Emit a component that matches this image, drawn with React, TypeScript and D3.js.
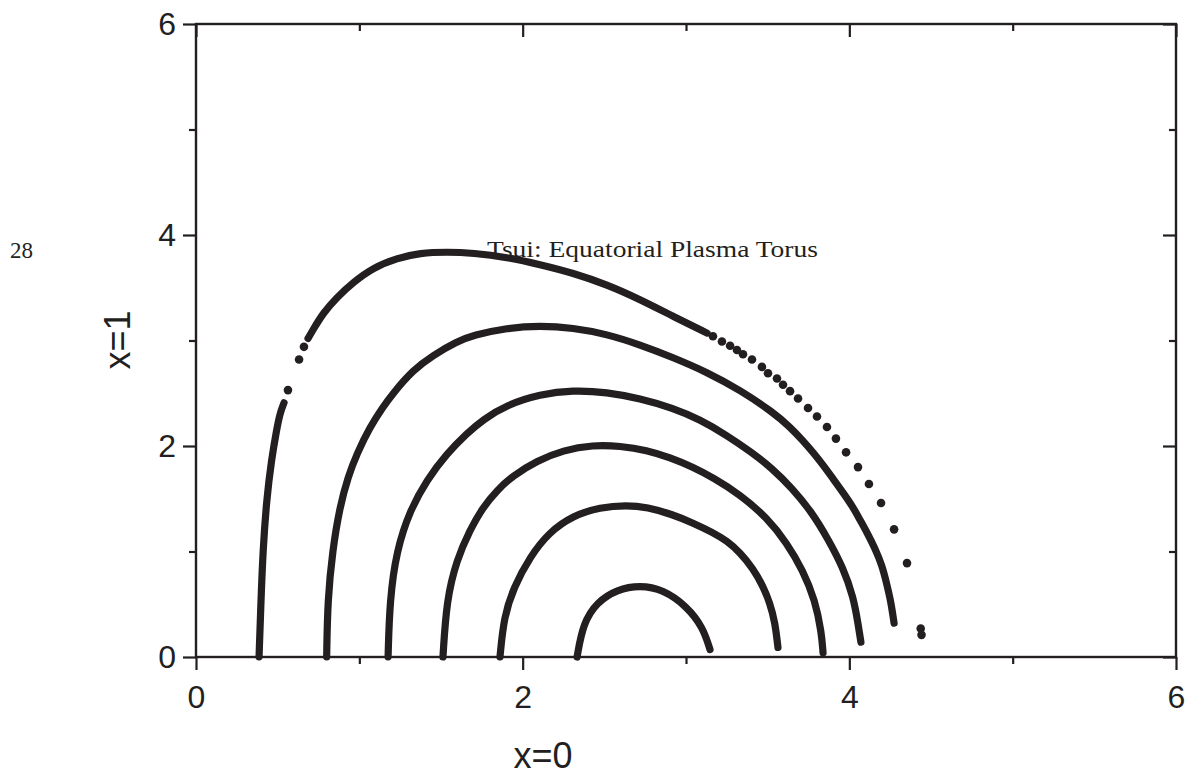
import React from "react";
import * as d3 from "d3";

const WIDTH = 1195;
const HEIGHT = 777;
const plot = { left: 196, right: 1176, top: 24, bottom: 657 };
const ink = "#231f20";

const majorTicks = [0, 2, 4, 6];
const minorTicks = [1, 3, 5];
const xTitle = "x=0";
const yTitle = "x=1";
const caption = "Tsui: Equatorial Plasma Torus";
const pageNo = "28";

// Flux surfaces, outermost first. [x, y]
// surface 1 is only dense on parts of its path, the rest are loose dots
const surface1Foot = [
  [0.386, 0], [0.398, 0.54], [0.41, 1.01], [0.432, 1.49], [0.462, 1.87],
  [0.493, 2.15], [0.514, 2.31], [0.539, 2.41],
];
const surface1Top = [
  [0.686, 3.02], [0.716, 3.1], [0.778, 3.26], [0.863, 3.41], [0.961, 3.55],
  [1.084, 3.69], [1.231, 3.78], [1.371, 3.83], [1.537, 3.84], [1.696, 3.83],
  [1.904, 3.79], [2.106, 3.72], [2.308, 3.64], [2.516, 3.53], [2.718, 3.39],
  [2.92, 3.23], [3.129, 3.07],
];
const surface1Dots = [
  [0.563, 2.53], [0.631, 2.82], [0.661, 2.94],
  [3.165, 3.04], [3.22, 2.99], [3.27, 2.95], [3.312, 2.91], [3.349, 2.87],
  [3.404, 2.82], [3.465, 2.75], [3.502, 2.69], [3.557, 2.64], [3.594, 2.58],
  [3.637, 2.52], [3.686, 2.45], [3.747, 2.36], [3.802, 2.28], [3.863, 2.18],
  [3.918, 2.07], [3.98, 1.94], [4.053, 1.8], [4.12, 1.64], [4.194, 1.46],
  [4.274, 1.21], [4.353, 0.89], [4.437, 0.27], [4.442, 0.21],
];
const surface2 = [
  [0.8, 0], [0.806, 0.54], [0.836, 1.01], [0.88, 1.42], [0.931, 1.71],
  [0.986, 1.93], [1.065, 2.18], [1.145, 2.37], [1.206, 2.5], [1.329, 2.72],
  [1.451, 2.86], [1.598, 2.99], [1.696, 3.05], [1.904, 3.12], [2.106, 3.14],
  [2.308, 3.12], [2.516, 3.06], [2.718, 2.96], [2.92, 2.84], [3.129, 2.7],
  [3.331, 2.53], [3.533, 2.32], [3.637, 2.18], [3.716, 2.05], [3.778, 1.94],
  [3.839, 1.82], [3.9, 1.69], [3.961, 1.56], [4.023, 1.42], [4.065, 1.3],
  [4.108, 1.18], [4.157, 1.03], [4.2, 0.87], [4.231, 0.68], [4.255, 0.52],
  [4.274, 0.32],
];
const surface3 = [
  [1.176, 0], [1.186, 0.54], [1.228, 1.01], [1.31, 1.39], [1.414, 1.68],
  [1.537, 1.93], [1.659, 2.12], [1.757, 2.25], [1.904, 2.39], [2.106, 2.49],
  [2.308, 2.53], [2.516, 2.51], [2.718, 2.45], [2.92, 2.36], [3.086, 2.25],
  [3.251, 2.1], [3.392, 1.95], [3.527, 1.79], [3.649, 1.6], [3.772, 1.37],
  [3.869, 1.12], [3.961, 0.85], [4.025, 0.57], [4.055, 0.3], [4.071, 0.14],
];
const surface4 = [
  [1.512, 0], [1.534, 0.54], [1.596, 0.92], [1.676, 1.2], [1.757, 1.42],
  [1.843, 1.58], [1.941, 1.72], [2.088, 1.86], [2.247, 1.96], [2.431, 2.01],
  [2.596, 2.0], [2.761, 1.96], [2.902, 1.89], [3.043, 1.8], [3.165, 1.7],
  [3.331, 1.54], [3.496, 1.32], [3.618, 1.08], [3.716, 0.82], [3.79, 0.54],
  [3.83, 0.23], [3.839, 0.04],
];
const surface5 = [
  [1.861, 0], [1.885, 0.38], [1.945, 0.66], [2.045, 0.95], [2.16, 1.18],
  [2.308, 1.34], [2.474, 1.42], [2.639, 1.44], [2.761, 1.42], [2.92, 1.35],
  [3.043, 1.27], [3.165, 1.18], [3.251, 1.1], [3.331, 0.99], [3.41, 0.84],
  [3.472, 0.67], [3.514, 0.51], [3.545, 0.33], [3.563, 0.09],
];
const surface6 = [
  [2.333, 0], [2.37, 0.32], [2.455, 0.52], [2.578, 0.64], [2.718, 0.68],
  [2.859, 0.64], [3.006, 0.48], [3.104, 0.28], [3.147, 0.07],
];

const traces = [surface1Foot, surface1Top, surface2, surface3, surface4, surface5, surface6];

class TorusChart extends React.Component {
  svg: SVGSVGElement | null = null;

  componentDidMount() {
    this.drawChart();
  }

  shouldComponentUpdate() {
    return false;
  }

  drawChart() {
    var svg = d3.select(this.svg);

    var x = d3.scaleLinear().domain([0, 6]).range([plot.left, plot.right]);
    var y = d3.scaleLinear().domain([0, 6]).range([plot.bottom, plot.top]);

    // frame: bottom/left ticks point out, top/right point in
    function styleAxis(g) {
      g.select(".domain").remove();
      g.selectAll("line").attr("stroke", ink).attr("stroke-width", 2.2);
      g.selectAll("text")
        .attr("fill", ink)
        .style("font-family", "'Liberation Sans', Arial, sans-serif")
        .style("font-size", "32px");
    }

    var fmt = d3.format("d");
    var blank = () => "";

    svg.append("g")
      .attr("transform", "translate(0," + plot.bottom + ")")
      .call(d3.axisBottom(x).tickValues(majorTicks).tickSize(13).tickPadding(11).tickFormat(fmt))
      .call(styleAxis)
      .selectAll("text").attr("dy", "0.85em");
    svg.append("g")
      .attr("transform", "translate(0," + plot.bottom + ")")
      .call(d3.axisBottom(x).tickValues(minorTicks).tickSize(7).tickFormat(blank))
      .call(styleAxis);

    svg.append("g")
      .attr("transform", "translate(" + plot.left + ",0)")
      .call(d3.axisLeft(y).tickValues(majorTicks).tickSize(13).tickPadding(7).tickFormat(fmt))
      .call(styleAxis);
    svg.append("g")
      .attr("transform", "translate(" + plot.left + ",0)")
      .call(d3.axisLeft(y).tickValues(minorTicks).tickSize(7).tickFormat(blank))
      .call(styleAxis);

    svg.append("g")
      .attr("transform", "translate(0," + plot.top + ")")
      .call(d3.axisTop(x).tickValues(majorTicks).tickSize(-13).tickFormat(blank))
      .call(styleAxis);
    svg.append("g")
      .attr("transform", "translate(0," + plot.top + ")")
      .call(d3.axisTop(x).tickValues(minorTicks).tickSize(-7).tickFormat(blank))
      .call(styleAxis);

    svg.append("g")
      .attr("transform", "translate(" + plot.right + ",0)")
      .call(d3.axisRight(y).tickValues(majorTicks).tickSize(-13).tickFormat(blank))
      .call(styleAxis);
    svg.append("g")
      .attr("transform", "translate(" + plot.right + ",0)")
      .call(d3.axisRight(y).tickValues(minorTicks).tickSize(-7).tickFormat(blank))
      .call(styleAxis);

    svg.append("rect")
      .attr("x", plot.left)
      .attr("y", plot.top)
      .attr("width", plot.right - plot.left)
      .attr("height", plot.bottom - plot.top)
      .attr("fill", "none")
      .attr("stroke", ink)
      .attr("stroke-width", 2.4);

    // surfaces
    var line = d3.line()
      .x(function(d) { return x(d[0]); })
      .y(function(d) { return y(d[1]); })
      .curve(d3.curveBasis);

    svg.append("g")
      .selectAll("path")
      .data(traces)
      .enter().append("path")
      .attr("d", line)
      .attr("fill", "none")
      .attr("stroke", ink)
      .attr("stroke-width", 7.2)
      .attr("stroke-linecap", "round");

    svg.append("g")
      .selectAll("circle")
      .data(surface1Dots)
      .enter().append("circle")
      .attr("cx", function(d) { return x(d[0]); })
      .attr("cy", function(d) { return y(d[1]); })
      .attr("r", 4.3)
      .attr("fill", ink);

    // labels
    svg.append("text")
      .attr("x", 543)
      .attr("y", 768)
      .attr("text-anchor", "middle")
      .attr("fill", ink)
      .style("font-family", "'Liberation Sans', Arial, sans-serif")
      .style("font-size", "36px")
      .text(xTitle);

    svg.append("text")
      .attr("transform", "translate(130,340) rotate(-90)")
      .attr("text-anchor", "middle")
      .attr("fill", ink)
      .style("font-family", "'Liberation Sans', Arial, sans-serif")
      .style("font-size", "36px")
      .text(yTitle);

    svg.append("text")
      .attr("x", 487)
      .attr("y", 257)
      .attr("textLength", 331)
      .attr("lengthAdjust", "spacingAndGlyphs")
      .attr("fill", ink)
      .style("font-family", "'Liberation Serif', 'DejaVu Serif', serif")
      .style("font-size", "24px")
      .text(caption);

    svg.append("text")
      .attr("x", 10)
      .attr("y", 258)
      .attr("fill", ink)
      .style("font-family", "'Liberation Serif', 'DejaVu Serif', serif")
      .style("font-size", "23px")
      .text(pageNo);
  }

  render() {
    return (
      <svg
        width={WIDTH}
        height={HEIGHT}
        style={{ position: "absolute", left: 0, top: 0, background: "#fff" }}
        ref={(elem) => { this.svg = elem; }}
      ></svg>
    );
  }
}

export default function App() {
  return <TorusChart />;
}
